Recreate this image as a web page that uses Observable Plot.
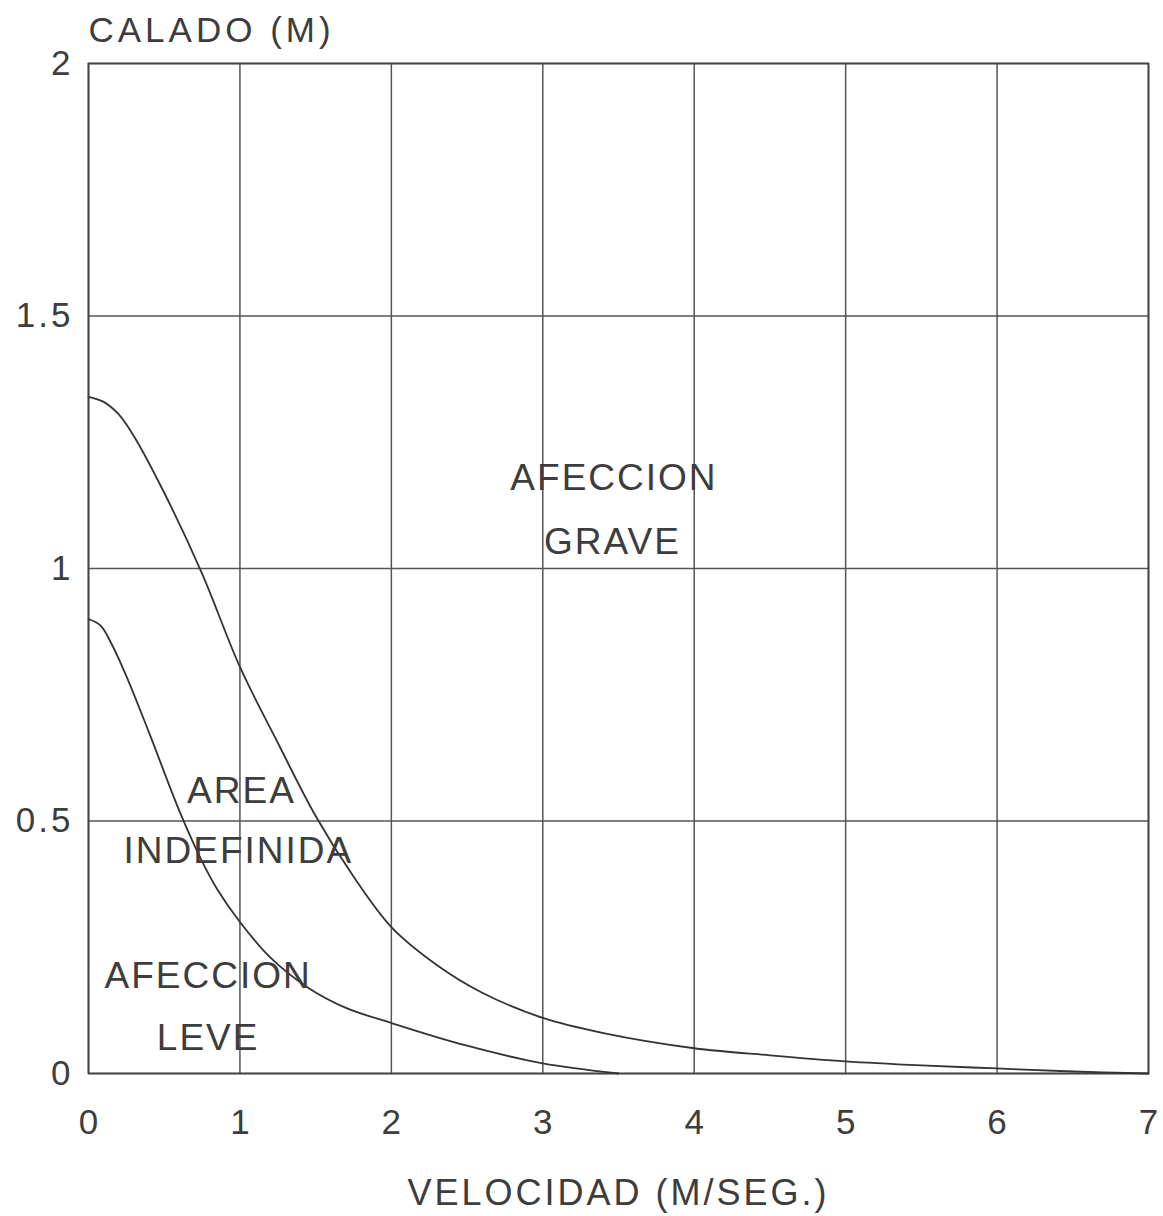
<!DOCTYPE html>
<html>
<head>
<meta charset="utf-8">
<script src="https://cdn.jsdelivr.net/npm/d3@7"></script>
<script src="https://cdn.jsdelivr.net/npm/@observablehq/plot@0.6"></script>
<style>
  html, body { margin: 0; padding: 0; background: #ffffff; }
  #chart svg { display: block; }
</style>
</head>
<body>
<div id="chart"></div>
<script>
// Upper curve: limit between "Area indefinida" and "Afeccion grave"
const upperVel = [0, 0.1, 0.2, 0.3, 0.5, 0.75, 1.0, 1.25, 1.5, 1.75, 2.0, 2.3, 2.6, 3.0, 3.4, 4.0, 4.5, 5.0, 5.5, 6.0, 6.5, 7.0];
const upperCal = [1.34, 1.33, 1.305, 1.262, 1.15, 0.99, 0.805, 0.655, 0.51, 0.39, 0.29, 0.215, 0.16, 0.11, 0.08, 0.05, 0.036, 0.024, 0.016, 0.01, 0.004, 0];

// Lower curve: limit between "Afeccion leve" and "Area indefinida"
const lowerVel = [0, 0.08, 0.15, 0.25, 0.4, 0.6, 0.75, 0.85, 1.0, 1.2, 1.45, 1.7, 2.0, 2.5, 3.0, 3.5];
const lowerCal = [0.90, 0.887, 0.852, 0.787, 0.675, 0.52, 0.42, 0.365, 0.30, 0.23, 0.17, 0.13, 0.10, 0.055, 0.02, 0];

// Zone labels
const zoneText = ["AFECCION", "GRAVE", "AREA", "INDEFINIDA", "AFECCION", "LEVE"];
const zoneVel  = [3.47, 3.46, 1.01, 0.99, 0.79, 0.79];
const zoneCal  = [1.178, 1.053, 0.56, 0.44, 0.192, 0.069];

// Axis ticks and titles
const xTicks = [0, 1, 2, 3, 4, 5, 6, 7];
const yTicks = [0, 0.5, 1, 1.5, 2];
const yTitle = "CALADO (M)";
const xTitle = "VELOCIDAD (M/SEG.)";

const upper = upperVel.map((v, i) => ({v, c: upperCal[i]}));
const lower = lowerVel.map((v, i) => ({v, c: lowerCal[i]}));
const zones = zoneText.map((t, i) => ({t, v: zoneVel[i], c: zoneCal[i]}));

const ink = "#3d3d3d";
const font = "'Liberation Sans', Arial, Helvetica, sans-serif";

const chart = Plot.plot({
  width: 1163,
  height: 1216,
  marginLeft: 88,
  marginRight: 15,
  marginTop: 63,
  marginBottom: 143,
  style: {fontFamily: font, fontSize: "35px", color: ink, background: "#ffffff", overflow: "visible"},
  x: {domain: [0, 7]},
  y: {domain: [0, 2]},
  marks: [
    Plot.gridX(xTicks, {stroke: "#555", strokeOpacity: 1, strokeWidth: 1.5}),
    Plot.gridY(yTicks, {stroke: "#555", strokeOpacity: 1, strokeWidth: 1.5}),
    Plot.frame({stroke: "#444", strokeWidth: 1.8}),
    Plot.axisX(xTicks, {tickSize: 0, tickPadding: 36, label: null, fontSize: 35, fill: ink,
      tickFormat: d3.format("d")}),
    Plot.axisY(yTicks, {tickSize: 0, tickPadding: 15, label: null, fontSize: 35, fill: ink,
      tickFormat: d => String(d)}),
    Plot.line(upper, {x: "v", y: "c", curve: "catmull-rom", stroke: "#333", strokeWidth: 1.8}),
    Plot.line(lower, {x: "v", y: "c", curve: "catmull-rom", stroke: "#333", strokeWidth: 1.8}),
    Plot.text(zones, {x: "v", y: "c", text: "t", fontSize: 37, fill: ink, textAnchor: "middle",
      lineAnchor: "middle"}),
    Plot.text([yTitle], {frameAnchor: "top-left", text: d => d, dy: -33, dx: 0, textAnchor: "start",
      lineAnchor: "middle", fontSize: 35, fill: ink}),
    Plot.text([xTitle], {frameAnchor: "bottom", text: d => d, dy: 120, textAnchor: "middle",
      lineAnchor: "middle", fontSize: 36, fill: ink})
  ]
});

// letter spacing, matched on the text contents
const yTickStr = yTicks.map(String);
d3.select(chart).selectAll("text").each(function() {
  const s = this.textContent;
  let ls = null;
  if (s === yTitle) ls = "4px";
  else if (s === xTitle) ls = "3px";
  else if (zoneText.includes(s)) ls = "2px";
  else if (yTickStr.includes(s) && this.closest('g[aria-label="y-axis tick label"]')) ls = "3px";
  if (ls) d3.select(this).style("letter-spacing", ls);
});
document.getElementById("chart").appendChild(chart);
</script>
</body>
</html>
